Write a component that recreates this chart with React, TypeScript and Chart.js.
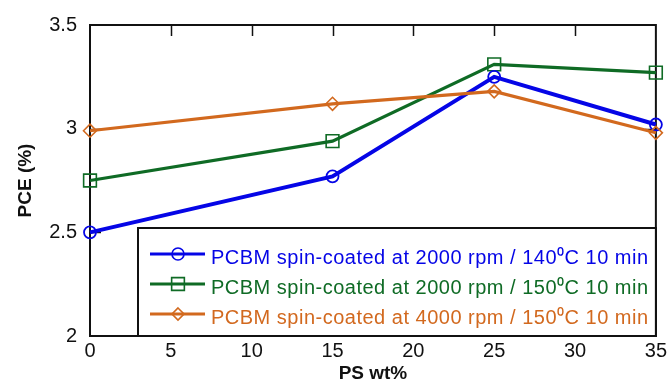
import React, { useEffect, useRef } from 'react';
import { Chart, registerables } from 'chart.js';

Chart.register(...registerables);

const psWt = [0, 15, 25, 35];
const pce2000rpm140C = [2.5, 2.77, 3.25, 3.02];
const pce2000rpm150C = [2.75, 2.94, 3.31, 3.27];
const pce4000rpm150C = [2.99, 3.12, 3.18, 2.98];
const seriesLabels = [
  'PCBM spin-coated at 2000 rpm / 140\u2070C 10 min',
  'PCBM spin-coated at 2000 rpm / 150\u2070C 10 min',
  'PCBM spin-coated at 4000 rpm / 150\u2070C 10 min',
];
const xTicks = [0, 5, 10, 15, 20, 25, 30, 35];
const yTicks = [2, 2.5, 3, 3.5];
const xTitle = 'PS wt%';
const yTitle = 'PCE (%)';

const BLUE = '#0505e6';
const GREEN = '#0f6b25';
const ORANGE = '#d2691e';

function drawMarker(ctx: CanvasRenderingContext2D, style: string, x: number, y: number, r: number) {
  ctx.beginPath();
  if (style === 'circle') {
    ctx.arc(x, y, r, 0, Math.PI * 2);
  } else if (style === 'rect') {
    const h = r * Math.SQRT1_2;
    ctx.rect(x - h, y - h, 2 * h, 2 * h);
  } else {
    ctx.moveTo(x, y - r);
    ctx.lineTo(x + r, y);
    ctx.lineTo(x, y + r);
    ctx.lineTo(x - r, y);
    ctx.closePath();
  }
  ctx.stroke();
}

const framePlugin = {
  id: 'frame',
  beforeDatasetsDraw(chart: any) {
    const { ctx, chartArea, scales } = chart;
    const { left, right, top, bottom } = chartArea;
    ctx.save();
    ctx.strokeStyle = '#111';
    ctx.lineWidth = 2;
    ctx.strokeRect(left, top, right - left, bottom - top);
    ctx.lineWidth = 1.5;
    ctx.beginPath();
    xTicks.forEach((v) => {
      if (v <= scales.x.min || v >= scales.x.max) return;
      const px = Math.round(scales.x.getPixelForValue(v)) + 0.5;
      ctx.moveTo(px, top);
      ctx.lineTo(px, top + 11);
      ctx.moveTo(px, bottom);
      ctx.lineTo(px, bottom - 11);
    });
    yTicks.forEach((v) => {
      if (v <= scales.y.min || v >= scales.y.max) return;
      const py = Math.round(scales.y.getPixelForValue(v)) + 0.5;
      ctx.moveTo(left, py);
      ctx.lineTo(left + 11, py);
      ctx.moveTo(right, py);
      ctx.lineTo(right - 11, py);
    });
    ctx.stroke();
    ctx.restore();
  },
};

const legendPlugin = {
  id: 'boxLegend',
  afterDraw(chart: any) {
    const { ctx, chartArea } = chart;
    const bx = chartArea.left + 48;
    const by = chartArea.top + 203;
    const bw = chartArea.right - bx;
    const bh = chartArea.bottom - by;
    ctx.save();
    ctx.fillStyle = '#fff';
    ctx.fillRect(bx, by, bw, bh);
    ctx.strokeStyle = '#111';
    ctx.lineWidth = 2;
    ctx.strokeRect(bx, by, bw, bh);
    chart.data.datasets.forEach((ds: any, i: number) => {
      const ly = by + 26 + i * 30;
      ctx.strokeStyle = ds.borderColor;
      ctx.lineWidth = 3;
      ctx.beginPath();
      ctx.moveTo(bx + 12, ly);
      ctx.lineTo(bx + 67, ly);
      ctx.stroke();
      ctx.lineWidth = 1.6;
      drawMarker(ctx, ds.pointStyle, bx + 40, ly, ds.pointStyle === 'rect' ? 9 : 6);
      ctx.fillStyle = ds.borderColor;
      ctx.font = '20px "Liberation Sans", Arial, sans-serif';
      ctx.textBaseline = 'middle';
      ctx.textAlign = 'left';
      (ctx as any).letterSpacing = '0.5px';
      ctx.fillText(seriesLabels[i], bx + 73, ly + 4);
    });
    ctx.restore();
  },
};

export default function App() {
  const ref = useRef<HTMLCanvasElement>(null);
  useEffect(() => {
    if (!ref.current) return;
    const mk = (vals: number[]) => psWt.map((x, i) => ({ x, y: vals[i] }));
    const chart = new Chart(ref.current, {
      type: 'line',
      data: {
        datasets: [
          {
            label: seriesLabels[0],
            data: mk(pce2000rpm140C),
            borderColor: BLUE,
            backgroundColor: 'transparent',
            borderWidth: 4,
            pointStyle: 'circle',
            pointRadius: 6,
            pointBorderWidth: 1.8,
            pointBackgroundColor: 'transparent',
            pointBorderColor: BLUE,
            clip: false,
            order: 1,
          },
          {
            label: seriesLabels[1],
            data: mk(pce2000rpm150C),
            borderColor: GREEN,
            backgroundColor: 'transparent',
            borderWidth: 3.2,
            pointStyle: 'rect',
            pointRadius: 9,
            pointBorderWidth: 1.6,
            pointBackgroundColor: 'transparent',
            pointBorderColor: GREEN,
            clip: false,
            order: 2,
          },
          {
            label: seriesLabels[2],
            data: mk(pce4000rpm150C),
            borderColor: ORANGE,
            backgroundColor: 'transparent',
            borderWidth: 3.2,
            pointStyle: 'rectRot',
            pointRadius: 6.5,
            pointBorderWidth: 1.6,
            pointBackgroundColor: 'transparent',
            pointBorderColor: ORANGE,
            clip: false,
            order: 0,
          },
        ],
      },
      options: {
        responsive: false,
        animation: false,
        devicePixelRatio: 1,
        layout: { padding: { left: 0, right: 14, top: 24, bottom: 0 } },
        plugins: { legend: { display: false }, tooltip: { enabled: false } },
        scales: {
          x: {
            type: 'linear',
            min: 0,
            max: 35,
            afterBuildTicks: (s: any) => {
              s.ticks = xTicks.map((v) => ({ value: v }));
            },
            afterFit: (s: any) => {
              s.height = 47;
            },
            grid: { display: false, drawTicks: false },
            border: { display: false },
            ticks: {
              color: '#111',
              padding: 3,
              maxRotation: 0,
              callback: (v: any) => String(v),
              font: { family: '"Liberation Sans Narrow", "Liberation Sans", Arial, sans-serif', size: 20 },
            },
            title: {
              display: true,
              text: xTitle,
              color: '#111',
              padding: { top: 0, bottom: 0 },
              font: { family: '"Liberation Sans", Arial, sans-serif', size: 19, weight: 'bold', lineHeight: 1.0 },
            },
          },
          y: {
            type: 'linear',
            min: 2,
            max: 3.5,
            afterBuildTicks: (s: any) => {
              s.ticks = yTicks.map((v) => ({ value: v }));
            },
            afterFit: (s: any) => {
              s.width = 90;
            },
            grid: { display: false, drawTicks: false },
            border: { display: false },
            ticks: {
              color: '#111',
              padding: 13,
              callback: (v: any) => String(v),
              font: { family: '"Liberation Sans Narrow", "Liberation Sans", Arial, sans-serif', size: 20 },
            },
            title: {
              display: true,
              text: yTitle,
              color: '#111',
              padding: { top: 14, bottom: 0 },
              font: { family: '"Liberation Sans", Arial, sans-serif', size: 19, weight: 'bold' },
            },
          },
        },
      } as any,
      plugins: [framePlugin, legendPlugin],
    });
    return () => chart.destroy();
  }, []);
  return (
    <div style={{ position: 'absolute', left: 0, top: 0, width: 670, height: 383, background: '#fff' }}>
      <canvas ref={ref} width={670} height={383} />
    </div>
  );
}
